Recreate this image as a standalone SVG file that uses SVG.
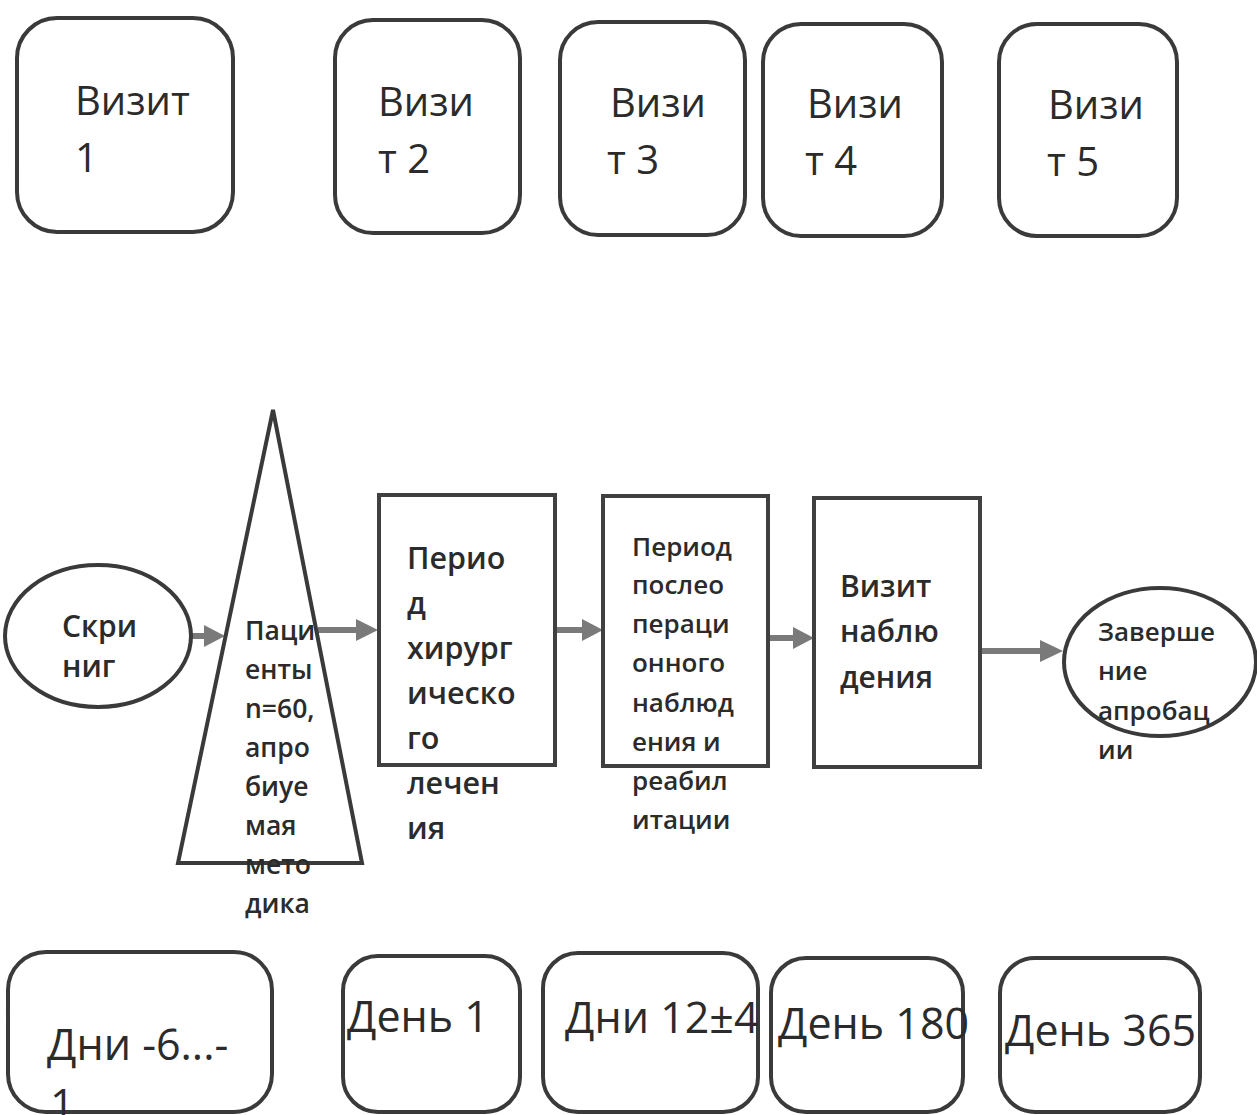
<svg xmlns="http://www.w3.org/2000/svg" width="1257" height="1115" viewBox="0 0 1257 1115">
<style>
.box{fill:#fff;stroke:#3a3a3a;stroke-width:4}
.sq{fill:#fff;stroke:#404040;stroke-width:4}
.t{font-family:"Open Sans","Liberation Sans",sans-serif;fill:#2b2b2b}
.top{font-size:40px;font-weight:500}
.bot{font-size:43px;font-weight:500}
.mid{font-weight:600}
.ln{stroke:#7a7a7a;stroke-width:6;fill:none}
.hd{fill:#7a7a7a}
</style>
<rect width="1257" height="1115" fill="#fff"/>
<g id="visit1"><rect class="box" x="17" y="18" width="216" height="214" rx="40"/><text class="t top" x="75" y="115">Визит</text><text class="t top" x="75" y="172">1</text></g>
<g id="visit2"><rect class="box" x="335" y="20" width="185" height="213" rx="38"/><text class="t top" x="378" y="116">Визи</text><text class="t top" x="378" y="173">т 2</text></g>
<g id="visit3"><rect class="box" x="560" y="22" width="185" height="213" rx="38"/><text class="t top" x="610" y="117">Визи</text><text class="t top" x="607" y="174">т 3</text></g>
<g id="visit4"><rect class="box" x="763" y="24" width="179" height="212" rx="38"/><text class="t top" x="807" y="118">Визи</text><text class="t top" x="805" y="175">т 4</text></g>
<g id="visit5"><rect class="box" x="999" y="24" width="178" height="212" rx="38"/><text class="t top" x="1048" y="119">Визи</text><text class="t top" x="1047" y="176">т 5</text></g>

<g id="connectors">
<line class="ln" x1="192" y1="636" x2="208" y2="636"/><polygon class="hd" points="204,625 225,636 204,647"/>
<line class="ln" x1="318" y1="630" x2="360" y2="630"/><polygon class="hd" points="356,619 378,630 356,641"/>
<line class="ln" x1="555" y1="630" x2="586" y2="630"/><polygon class="hd" points="582,619 603,630 582,641"/>
<line class="ln" x1="768" y1="638" x2="797" y2="638"/><polygon class="hd" points="793,627 814,638 793,649"/>
<line class="ln" x1="980" y1="651" x2="1044" y2="651"/><polygon class="hd" points="1040,640 1063,651 1040,662"/>
</g>

<g id="screening"><ellipse class="box" cx="98" cy="636" rx="93" ry="71"/><text class="t mid" font-size="30" x="62" y="637">Скри</text><text class="t mid" font-size="30" x="62" y="677">ниг</text></g>
<g id="patients"><polygon class="box" points="273,410 178,863 362,863"/>
<text class="t mid" font-size="26.5"><tspan x="245" y="640">Паци</tspan><tspan x="245" y="679">енты</tspan><tspan x="245" y="718">n=60,</tspan><tspan x="245" y="757">апро</tspan><tspan x="245" y="796">биуе</tspan><tspan x="245" y="835">мая</tspan><tspan x="245" y="874">мето</tspan><tspan x="245" y="913">дика</tspan></text></g>
<g id="surgery"><rect class="sq" x="379" y="495" width="176" height="270"/>
<text class="t mid" font-size="30.5"><tspan x="407" y="569">Перио</tspan><tspan x="407" y="614">д</tspan><tspan x="407" y="659">хирург</tspan><tspan x="407" y="704">ическо</tspan><tspan x="407" y="749">го</tspan><tspan x="407" y="794">лечен</tspan><tspan x="407" y="839">ия</tspan></text></g>
<g id="postop"><rect class="sq" x="603" y="496" width="165" height="270"/>
<text class="t mid" font-size="26"><tspan x="632" y="556">Период</tspan><tspan x="632" y="594">послео</tspan><tspan x="632" y="633">пераци</tspan><tspan x="632" y="672">онного</tspan><tspan x="632" y="712">наблюд</tspan><tspan x="632" y="751">ения и</tspan><tspan x="632" y="790">реабил</tspan><tspan x="632" y="829">итации</tspan></text></g>
<g id="followup"><rect class="sq" x="814" y="498" width="166" height="269"/>
<text class="t mid" font-size="30"><tspan x="840" y="597">Визит</tspan><tspan x="840" y="642">наблю</tspan><tspan x="840" y="688">дения</tspan></text></g>
<g id="completion"><ellipse class="box" cx="1160" cy="662" rx="96" ry="74"/>
<text class="t mid" font-size="26"><tspan x="1098" y="641">Заверше</tspan><tspan x="1098" y="680">ние</tspan><tspan x="1098" y="720">апробац</tspan><tspan x="1098" y="759">ии</tspan></text></g>

<g id="day1"><rect class="box" x="8" y="952" width="264" height="160" rx="38"/><text class="t bot" x="47" y="1060">Дни -6...-</text><text class="t bot" x="50" y="1120">1</text></g>
<g id="day2"><rect class="box" x="343" y="956" width="177" height="156" rx="35"/><text class="t bot" x="347" y="1032">День 1</text></g>
<g id="day3"><rect class="box" x="543" y="953" width="215" height="159" rx="35"/><text class="t bot" x="565" y="1033">Дни 12±4</text></g>
<g id="day4"><rect class="box" x="771" y="958" width="192" height="154" rx="35"/><text class="t bot" x="778" y="1039">День 180</text></g>
<g id="day5"><rect class="box" x="1000" y="958" width="200" height="154" rx="35"/><text class="t bot" x="1005" y="1046">День 365</text></g>
</svg>
